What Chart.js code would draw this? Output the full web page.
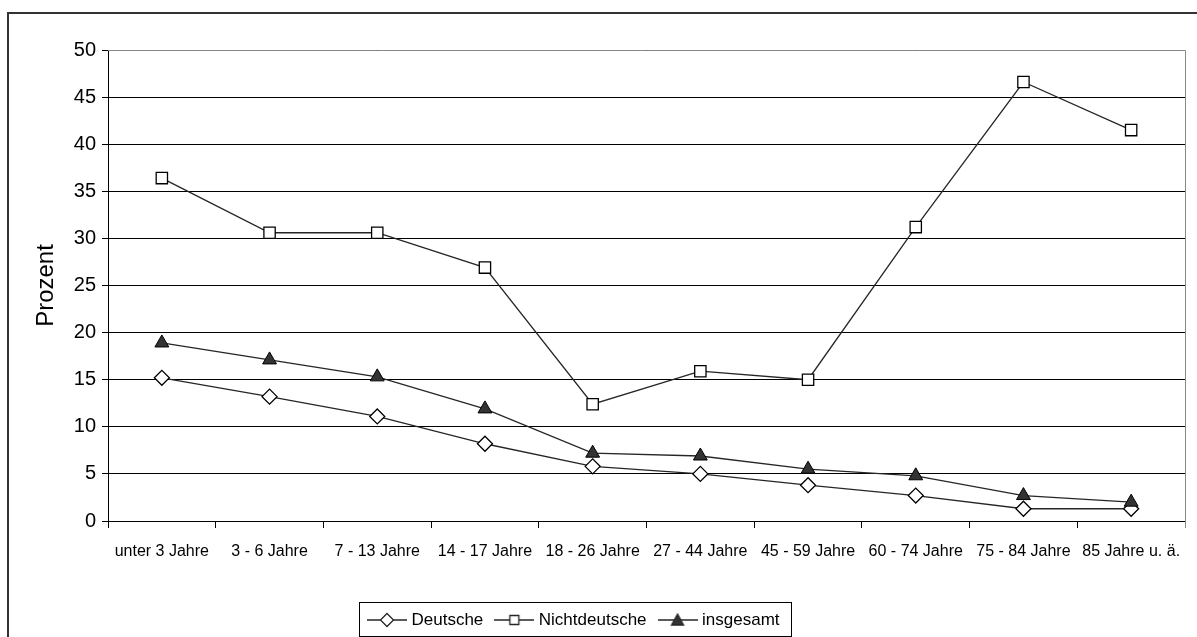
<!DOCTYPE html>
<html>
<head>
<meta charset="utf-8">
<script src="https://cdn.jsdelivr.net/npm/chart.js@4/dist/chart.umd.min.js"></script>
<style>
  body { margin: 0; background: #fff; }
</style>
</head>
<body>
<canvas id="grafik" width="1197" height="637"></canvas>
<script>
const kategorien = ['unter 3 Jahre', '3 - 6 Jahre', '7 - 13 Jahre', '14 - 17 Jahre', '18 - 26 Jahre',
  '27 - 44 Jahre', '45 - 59 Jahre', '60 - 74 Jahre', '75 - 84 Jahre', '85 Jahre u. ä.'];
const deutsche = [15.2, 13.2, 11.1, 8.2, 5.8, 5.0, 3.8, 2.7, 1.3, 1.3];
const nichtdeutsche = [36.4, 30.6, 30.6, 26.9, 12.4, 15.9, 15.0, 31.2, 46.6, 41.5];
const insgesamt = [18.9, 17.1, 15.3, 11.9, 7.2, 6.9, 5.5, 4.8, 2.7, 2.0];
const yTicks = [0, 5, 10, 15, 20, 25, 30, 35, 40, 45, 50];

const linie = '#262626';

// kleine Bildchen fuer die Legende: Linie mit Marker in der Mitte
function legendenIcon(form) {
  const c = document.createElement('canvas');
  c.width = 40; c.height = 20;
  const g = c.getContext('2d');
  g.strokeStyle = linie; g.lineWidth = 1.3;
  g.beginPath(); g.moveTo(0, 10); g.lineTo(40, 10); g.stroke();
  g.beginPath();
  if (form === 'raute') {
    g.moveTo(20, 3.5); g.lineTo(26.5, 10); g.lineTo(20, 16.5); g.lineTo(13.5, 10); g.closePath();
    g.fillStyle = '#fff';
  } else if (form === 'quadrat') {
    g.rect(15.5, 5.5, 9, 9);
    g.fillStyle = '#fff';
  } else {
    g.moveTo(20, 4); g.lineTo(26, 15); g.lineTo(14, 15); g.closePath();
    g.fillStyle = '#333';
  }
  g.fill(); g.stroke();
  return c;
}

const rahmen = {
  id: 'rahmen',
  afterUpdate(chart) {
    // Legende an die Stelle wie im Original schieben
    const lg = chart.legend;
    const hb = lg.legendHitBoxes;
    if (!hb.length) return;
    const dx = 371 - hb[0].left;
    const dy = (620 - hb[0].height / 2) - hb[0].top;
    lg.left += dx; lg.right += dx; lg.top += dy; lg.bottom += dy;
    hb.forEach(h => { h.left += dx; h.top += dy; });
  },
  afterDraw(chart) {
    const ctx = chart.ctx;
    const a = chart.chartArea;
    const hb = chart.legend.legendHitBoxes;
    ctx.save();
    // aeusserer Rahmen
    ctx.strokeStyle = '#333';
    ctx.lineWidth = 2;
    ctx.beginPath();
    ctx.moveTo(8, 640); ctx.lineTo(8, 13); ctx.lineTo(1200, 13);
    ctx.stroke();
    // Plotbereich oben und rechts
    ctx.strokeStyle = '#888';
    ctx.lineWidth = 1;
    ctx.beginPath();
    ctx.moveTo(a.left, a.top + 0.5); ctx.lineTo(a.right + 0.5, a.top + 0.5); ctx.lineTo(a.right + 0.5, a.bottom + 7);
    ctx.stroke();
    // Legendenrahmen
    const last = hb[hb.length - 1];
    ctx.strokeStyle = '#000';
    ctx.strokeRect(359.5, 602.5, Math.round(last.left + last.width + 11 - 359), 34);
    ctx.restore();
  }
};

new Chart(document.getElementById('grafik'), {
  type: 'line',
  data: {
    labels: kategorien,
    datasets: [{
      label: 'Deutsche',
      data: deutsche,
      borderColor: linie,
      borderWidth: 1.3,
      pointStyle: 'rectRot',
      pointRadius: 7.5,
      pointBackgroundColor: '#fff',
      pointBorderColor: '#000',
      pointBorderWidth: 1.3,
      order: 3
    }, {
      label: 'Nichtdeutsche',
      data: nichtdeutsche,
      borderColor: linie,
      borderWidth: 1.3,
      pointStyle: 'rect',
      pointRadius: 8,
      pointBackgroundColor: '#fff',
      pointBorderColor: '#000',
      pointBorderWidth: 1.3,
      order: 2
    }, {
      label: 'insgesamt',
      data: insgesamt,
      borderColor: linie,
      borderWidth: 1.3,
      pointStyle: 'triangle',
      pointRadius: 8,
      pointBackgroundColor: '#333',
      pointBorderColor: '#000',
      pointBorderWidth: 1,
      order: 1
    }]
  },
  options: {
    responsive: false,
    animation: false,
    devicePixelRatio: 1,
    layout: { padding: { top: 50, right: 12, left: 0, bottom: 0 } },
    plugins: {
      tooltip: { enabled: false },
      legend: {
        position: 'bottom',
        labels: {
          usePointStyle: true,
          pointStyleWidth: 32,
          padding: 15,
          color: '#000',
          font: { family: "'Liberation Sans', Arial, sans-serif", size: 17 },
          sort: (a, b) => a.datasetIndex - b.datasetIndex,
          generateLabels(chart) {
            const formen = ['raute', 'quadrat', 'dreieck'];
            return chart.data.datasets.map((ds, i) => ({
              text: ds.label,
              datasetIndex: i,
              pointStyle: legendenIcon(formen[i]),
              fillStyle: '#fff',
              strokeStyle: '#000',
              lineWidth: 0,
              fontColor: '#000'
            }));
          }
        }
      }
    },
    scales: {
      x: {
        offset: true,
        afterFit(s) { s.height = 74; },
        grid: { offset: true, drawOnChartArea: false, drawTicks: true, tickLength: 7, color: '#000' },
        border: { color: '#000', width: 1 },
        ticks: {
          color: '#000',
          autoSkip: false,
          maxRotation: 0,
          padding: 14,
          font: { family: "'Liberation Sans', Arial, sans-serif", size: 16 }
        }
      },
      y: {
        min: 0,
        max: 50,
        afterFit(s) { s.width = 108; },
        afterBuildTicks(s) { s.ticks = yTicks.map(v => ({ value: v })); },
        grid: { color: '#000', lineWidth: 1, tickLength: 6 },
        border: { color: '#000', width: 1 },
        ticks: {
          color: '#000',
          padding: 6,
          font: { family: "'Liberation Sans', Arial, sans-serif", size: 20 }
        },
        title: {
          display: true,
          text: 'Prozent',
          color: '#000',
          padding: { top: 32, bottom: 0 },
          font: { family: "'Liberation Sans', Arial, sans-serif", size: 24 }
        }
      }
    }
  },
  plugins: [rahmen]
});
</script>
</body>
</html>
